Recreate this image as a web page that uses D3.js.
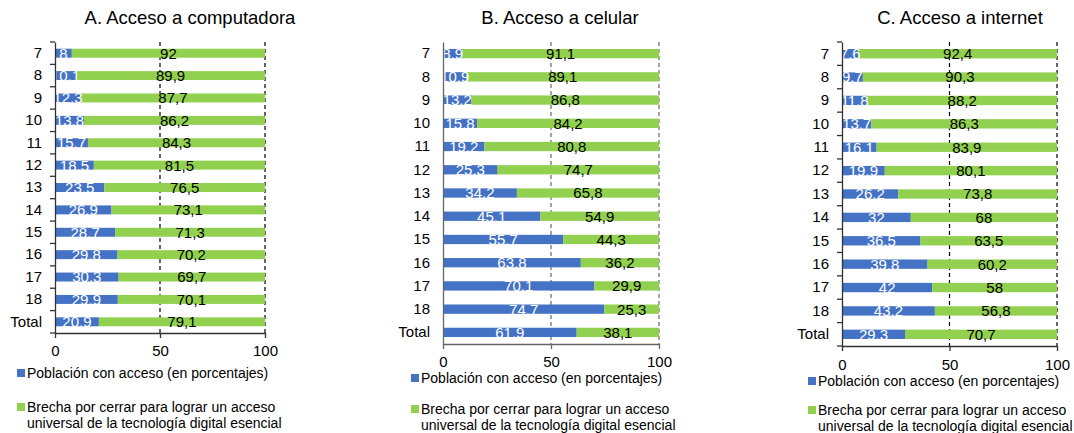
<!DOCTYPE html>
<html>
<head>
<meta charset="utf-8">
<script src="https://cdn.jsdelivr.net/npm/d3@7"></script>
<style>
  body { margin: 0; background: #fff; }
  svg { font-family: "Liberation Sans", Arial, sans-serif; display: block; }
</style>
</head>
<body>
<svg id="chart" width="1074" height="433"></svg>
<script>
// categories (age) and values
var ages = ['7', '8', '9', '10', '11', '12', '13', '14', '15', '16', '17', '18', 'Total'];
var xTicks = [0, 50, 100];

var compAccess = [8, 10.1, 12.3, 13.8, 15.7, 18.5, 23.5, 26.9, 28.7, 29.8, 30.3, 29.9, 20.9];
var compGap    = [92, 89.9, 87.7, 86.2, 84.3, 81.5, 76.5, 73.1, 71.3, 70.2, 69.7, 70.1, 79.1];

var cellAccess = [8.9, 10.9, 13.2, 15.8, 19.2, 25.3, 34.2, 45.1, 55.7, 63.8, 70.1, 74.7, 61.9];
var cellGap    = [91.1, 89.1, 86.8, 84.2, 80.8, 74.7, 65.8, 54.9, 44.3, 36.2, 29.9, 25.3, 38.1];

var netAccess  = [7.6, 9.7, 11.8, 13.7, 16.1, 19.9, 26.2, 32, 36.5, 39.8, 42, 43.2, 29.3];
var netGap     = [92.4, 90.3, 88.2, 86.3, 83.9, 80.1, 73.8, 68, 63.5, 60.2, 58, 56.8, 70.7];

var legendLabels = ['Población con acceso (en porcentajes)',
  ['Brecha por cerrar para lograr un acceso', 'universal de la tecnología digital esencial']];

var blue = '#4472C4', green = '#92D050';
var fmt = v => String(v).replace('.', ',');

var svg = d3.select('#chart');

function panel(opt) {
  var g = svg.append('g');
  var x = d3.scaleLinear().domain([0, 100]).range([opt.x0, opt.x1]);
  var y = d3.scaleBand().domain(ages).range([opt.y0, opt.y1]).paddingInner(0.6).paddingOuter(0.3);

  g.append('text')
    .attr('x', opt.tx).attr('y', 24)
    .attr('text-anchor', 'middle')
    .attr('font-size', 18.5).attr('fill', '#000')
    .text(opt.title);

  // dashed gridlines at 50 and 100
  g.selectAll('line.grid').data([50, 100]).enter().append('line')
    .attr('class', 'grid')
    .attr('x1', d => x(d)).attr('x2', d => x(d))
    .attr('y1', opt.y0).attr('y2', opt.y1)
    .attr('stroke', opt.gridColor).attr('stroke-width', 1.2)
    .attr('stroke-dasharray', '4,3');

  var rows = ages.map((a, i) => ({ age: a, acc: opt.acc[i], gap: opt.gap[i] }));

  g.selectAll('rect.acc').data(rows).enter().append('rect')
    .attr('x', x(0)).attr('y', d => y(d.age))
    .attr('width', d => x(d.acc) - x(0)).attr('height', y.bandwidth())
    .attr('fill', blue);
  g.selectAll('rect.gap').data(rows).enter().append('rect')
    .attr('x', d => x(d.acc)).attr('y', d => y(d.age))
    .attr('width', d => x(d.acc + d.gap) - x(d.acc)).attr('height', y.bandwidth())
    .attr('fill', green);

  g.selectAll('text.la').data(rows).enter().append('text')
    .attr('x', d => x(d.acc / 2)).attr('y', d => y(d.age) + y.bandwidth() / 2)
    .attr('dy', '0.36em').attr('text-anchor', 'middle')
    .attr('font-size', 15).attr('fill', '#fff')
    .text(d => fmt(d.acc));
  g.selectAll('text.lg').data(rows).enter().append('text')
    .attr('x', d => x(d.acc + d.gap / 2)).attr('y', d => y(d.age) + y.bandwidth() / 2)
    .attr('dy', '0.36em').attr('text-anchor', 'middle')
    .attr('font-size', 15).attr('fill', '#000')
    .text(d => fmt(d.gap));

  // y axis
  var ya = g.append('g').attr('transform', 'translate(' + opt.x0 + ',0)')
    .call(d3.axisLeft(y).tickSize(0).tickPadding(13));
  ya.select('.domain').attr('stroke', opt.axisColor).attr('stroke-width', 1.3);
  ya.selectAll('text').attr('font-size', 15).attr('fill', '#000').attr('font-family', null);
  if (opt.yTicks) {
    var step = y.step();
    g.selectAll('line.yt').data(d3.range(ages.length + 1)).enter().append('line')
      .attr('x1', opt.x0 - 5).attr('x2', opt.x0)
      .attr('y1', i => opt.y0 + i * step).attr('y2', i => opt.y0 + i * step)
      .attr('stroke', opt.axisColor).attr('stroke-width', 1.3);
  }

  // x axis
  var xa = g.append('g').attr('transform', 'translate(0,' + opt.y1 + ')')
    .call(d3.axisBottom(x).tickValues(xTicks).tickSize(5).tickSizeOuter(0).tickPadding(opt.xPad));
  xa.selectAll('.domain, line').attr('stroke', opt.axisColor).attr('stroke-width', 1.3);
  xa.selectAll('text').attr('font-size', 15).attr('fill', '#000').attr('font-family', null);

  // legend
  var lg = g.append('g');
  lg.append('rect').attr('x', opt.lx).attr('y', opt.ly1 - 4).attr('width', 8).attr('height', 8).attr('fill', blue);
  lg.append('text').attr('x', opt.lx + 10).attr('y', opt.ly1).attr('dy', '0.36em')
    .attr('font-size', 14).text(legendLabels[0]);
  lg.append('rect').attr('x', opt.lx).attr('y', opt.ly2 - 4).attr('width', 8).attr('height', 8).attr('fill', green);
  lg.append('text').attr('x', opt.lx + 10).attr('y', opt.ly2).attr('dy', '0.36em')
    .attr('font-size', 14).text(legendLabels[1][0]);
  lg.append('text').attr('x', opt.lx + 10).attr('y', opt.ly2 + 16).attr('dy', '0.36em')
    .attr('font-size', 14).text(legendLabels[1][1]);
}

panel({ title: 'A. Acceso a computadora', tx: 190, acc: compAccess, gap: compGap,
  x0: 55, x1: 265, y0: 42, y1: 333, gridColor: '#000', axisColor: '#333', yTicks: true,
  xPad: 7, lx: 17, ly1: 373, ly2: 407 });
panel({ title: 'B. Acceso a celular', tx: 560, acc: cellAccess, gap: cellGap,
  x0: 443, x1: 659, y0: 42, y1: 344, gridColor: '#666', axisColor: '#666', yTicks: false,
  xPad: 7, lx: 411, ly1: 378, ly2: 409 });
panel({ title: 'C. Acceso a internet', tx: 960, acc: netAccess, gap: netGap,
  x0: 842, x1: 1057, y0: 42, y1: 346, gridColor: '#000', axisColor: '#333', yTicks: true,
  xPad: 8, lx: 808, ly1: 381, ly2: 410 });
</script>
</body>
</html>
